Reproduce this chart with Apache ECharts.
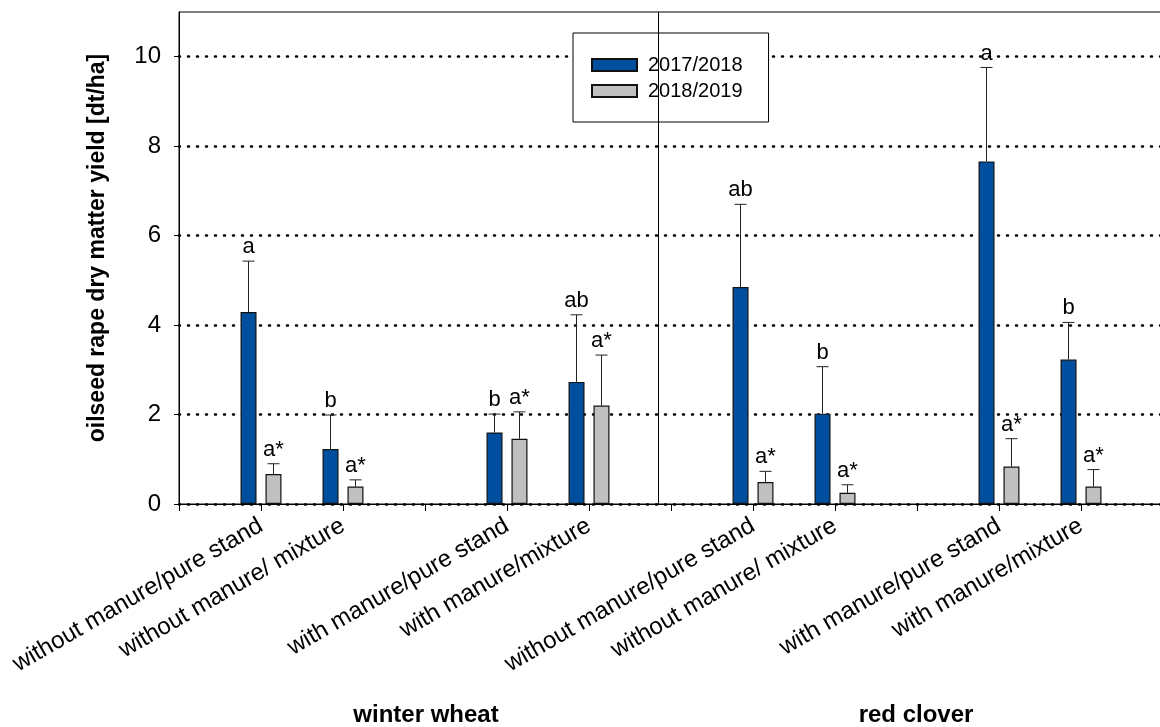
<!DOCTYPE html>
<html>
<head>
<meta charset="utf-8">
<title>oilseed rape dry matter yield</title>
<script src="https://cdn.jsdelivr.net/npm/echarts@6/dist/echarts.min.js"></script>
<style>
    html, body { margin: 0; padding: 0; background: #fff; }
    #ecYield { width: 1160px; height: 727px; }
</style>
</head>
<body>
<div id="ecYield"></div>
<script>
// x positions of the treatments (3, 6, 9 are the gaps between groups)
var xPos = [1, 2, 4, 5, 7, 8, 10, 11];
var categories = [
    'without manure/pure stand', 'without manure/ mixture',
    'with manure/pure stand', 'with manure/mixture',
    'without manure/pure stand', 'without manure/ mixture',
    'with manure/pure stand', 'with manure/mixture'
];
var groups = ['winter wheat', 'red clover'];
var seasons = ['2017/2018', '2018/2019'];

var yield1718 = [4.29, 1.23, 1.60, 2.73, 4.85, 2.02, 7.66, 3.23];
var upper1718 = [5.43, 1.99, 2.01, 4.23, 6.70, 3.07, 9.76, 4.06];
var letters1718 = ['a', 'b', 'b', 'ab', 'ab', 'b', 'a', 'b'];

var yield1819 = [0.67, 0.39, 1.46, 2.20, 0.49, 0.25, 0.84, 0.39];
var upper1819 = [0.90, 0.54, 2.06, 3.33, 0.73, 0.43, 1.46, 0.77];
var letters1819 = ['a*', 'a*', 'a*', 'a*', 'a*', 'a*', 'a*', 'a*'];

var yTicks = [0, 2, 4, 6, 8, 10];

var FONT = '"Liberation Sans", Arial, sans-serif';

function pairs(vals) {
    return vals.map(function (v, i) { return [xPos[i], v]; });
}

function errData(vals, ups, letters) {
    return vals.map(function (v, i) { return [xPos[i], v, ups[i], letters[i]]; });
}

// upper error bar with cap and significance letter
function errRenderer(offset) {
    return function (params, api) {
        var x = api.value(0);
        var base = api.coord([x, api.value(1)]);
        var top = api.coord([x, api.value(2)]);
        var cx = base[0] + offset;
        return {
            type: 'group',
            children: [
                {type: 'line', shape: {x1: cx, y1: base[1], x2: cx, y2: top[1]},
                    style: {stroke: '#222', lineWidth: 1}},
                {type: 'line', shape: {x1: cx - 6, y1: top[1], x2: cx + 6, y2: top[1]},
                    style: {stroke: '#222', lineWidth: 1}},
                {type: 'text', x: cx, y: top[1] - 3,
                    style: {text: api.value(3), fill: '#000', font: '22px ' + FONT,
                        align: 'center', verticalAlign: 'bottom'}}
            ]
        };
    };
}

var labelMap = {};
xPos.forEach(function (p, i) { labelMap[p] = categories[i]; });

var option = {
    backgroundColor: '#fff',
    animation: false,
    grid: {
        left: 179,
        right: -3,
        top: 12,
        bottom: 223,
        show: true,
        borderColor: '#000',
        borderWidth: 1,
        outerBoundsMode: 'none'
    },
    legend: {
        orient: 'vertical',
        left: 573,
        top: 33,
        padding: [22, 26, 21, 18],
        itemGap: 6,
        itemWidth: 45,
        itemHeight: 12,
        backgroundColor: '#fff',
        borderColor: '#000',
        borderWidth: 1,
        borderRadius: 0,
        icon: 'rect',
        data: seasons,
        textStyle: {
            fontSize: 20,
            fontFamily: FONT,
            color: '#000',
            padding: [0, 0, 0, 6]
        }
    },
    xAxis: {
        type: 'value',
        min: 0,
        max: 12,
        interval: 1,
        splitLine: {show: false},
        axisLine: {lineStyle: {color: '#000', width: 1}},
        axisTick: {length: 7, lineStyle: {color: '#000'}},
        axisLabel: {
            rotate: 30,
            margin: 20,
            fontSize: 24,
            fontFamily: FONT,
            color: '#000',
            formatter: function (v) { return labelMap[v] || ''; }
        }
    },
    yAxis: {
        type: 'value',
        min: 0,
        max: 11,
        interval: 2,
        axisLine: {show: true, lineStyle: {color: '#000', width: 1}},
        axisTick: {show: true, length: 5, lineStyle: {color: '#000'}, customValues: yTicks},
        axisLabel: {
            margin: 18,
            fontSize: 24,
            fontFamily: FONT,
            color: '#000',
            customValues: yTicks
        },
        splitLine: {
            show: true,
            lineStyle: {color: '#000', width: 2.5, type: [1, 8], cap: 'round'}
        }
    },
    graphic: [
        {
            type: 'text',
            x: 98,
            y: 248,
            rotation: Math.PI / 2,
            style: {
                text: 'oilseed rape dry matter yield [dt/ha]',
                font: 'bold 23px ' + FONT,
                fill: '#000',
                align: 'center',
                verticalAlign: 'middle'
            }
        },
        {
            type: 'text',
            x: 426,
            y: 715,
            style: {
                text: groups[0],
                font: 'bold 24px ' + FONT,
                fill: '#000',
                align: 'center',
                verticalAlign: 'middle'
            }
        },
        {
            type: 'text',
            x: 916,
            y: 715,
            style: {
                text: groups[1],
                font: 'bold 24px ' + FONT,
                fill: '#000',
                align: 'center',
                verticalAlign: 'middle'
            }
        }
    ],
    series: [
        {
            name: seasons[0],
            type: 'bar',
            barWidth: 16,
            barGap: '56%',
            itemStyle: {color: '#004f9e', borderColor: '#111', borderWidth: 1.2},
            data: pairs(yield1718),
            markLine: {
                silent: true,
                symbol: ['none', 'none'],
                label: {show: false},
                lineStyle: {color: '#000', width: 1, type: 'solid'},
                data: [{xAxis: 6}]
            }
        },
        {
            name: seasons[1],
            type: 'bar',
            barWidth: 16,
            barGap: '56%',
            itemStyle: {color: '#c0c0c0', borderColor: '#111', borderWidth: 1.2},
            data: pairs(yield1819)
        },
        {
            name: 'err1718',
            type: 'custom',
            renderItem: errRenderer(-12.5),
            encode: {x: 0, y: 2},
            data: errData(yield1718, upper1718, letters1718),
            z: 3
        },
        {
            name: 'err1819',
            type: 'custom',
            renderItem: errRenderer(12.5),
            encode: {x: 0, y: 2},
            data: errData(yield1819, upper1819, letters1819),
            z: 3
        }
    ]
};

var myChart = echarts.init(document.getElementById('ecYield'));
myChart.setOption(option);
window.addEventListener('resize', function () {
    myChart.resize();
});
</script>
</body>
</html>
